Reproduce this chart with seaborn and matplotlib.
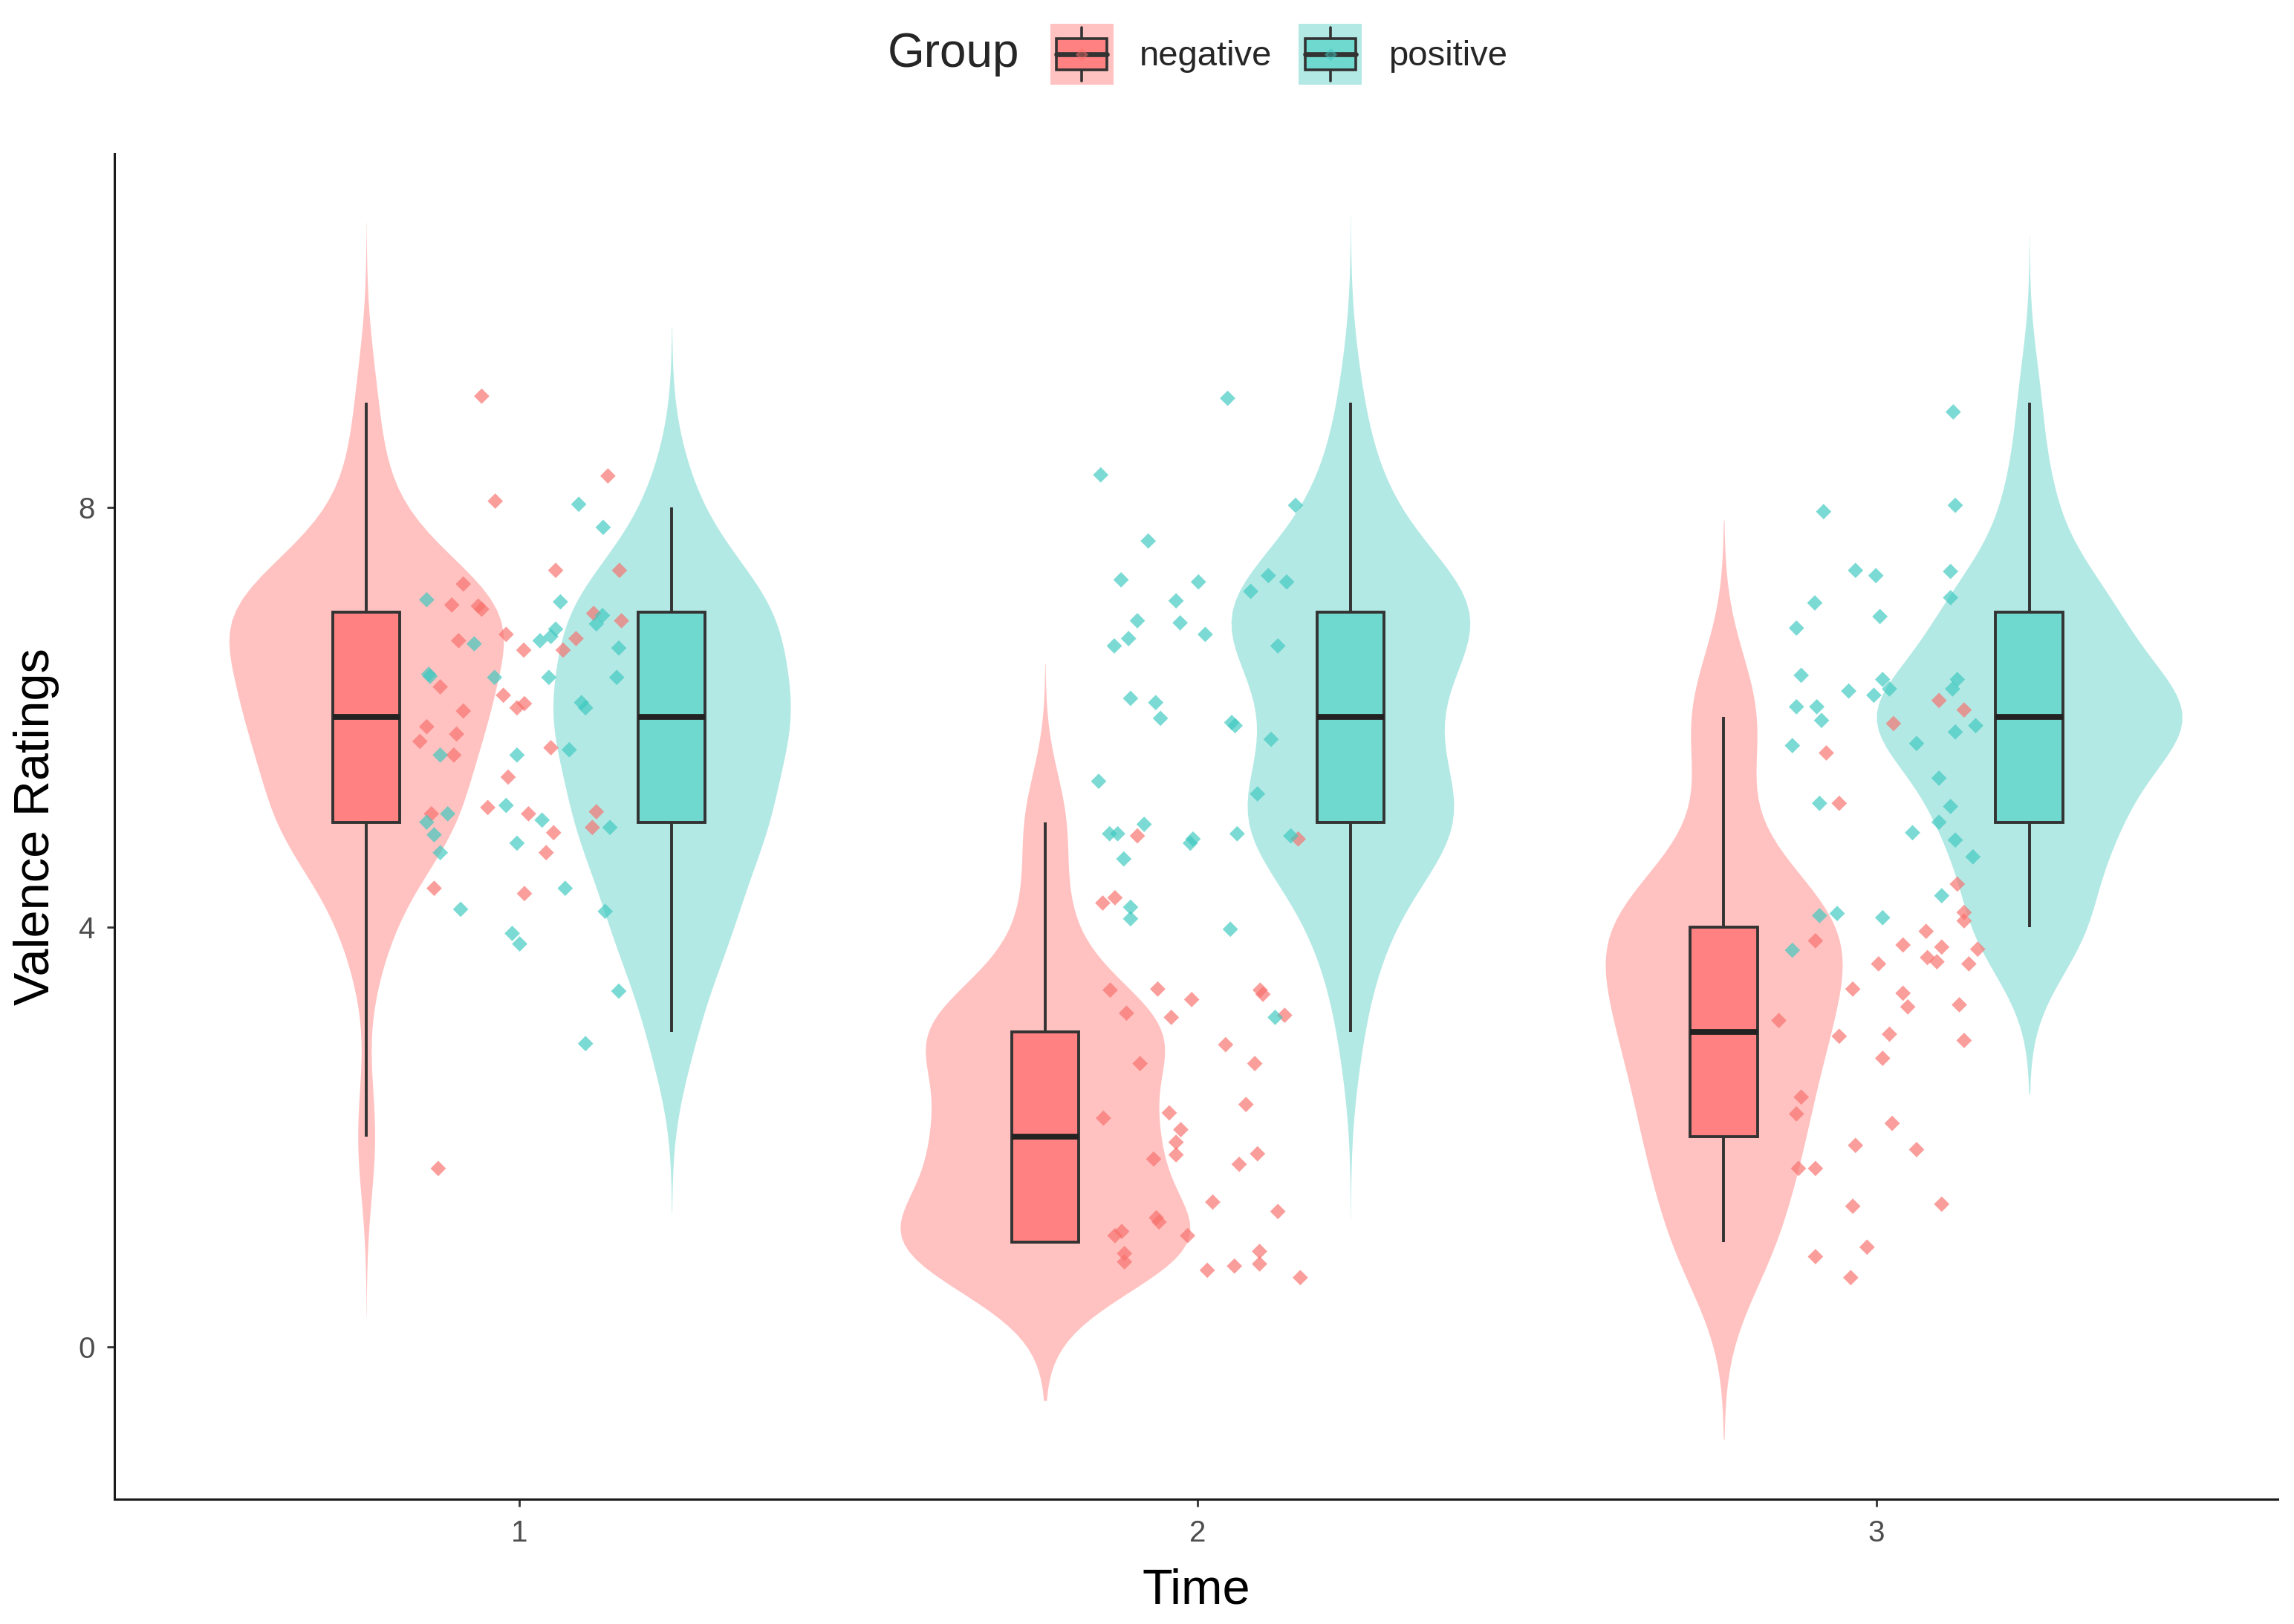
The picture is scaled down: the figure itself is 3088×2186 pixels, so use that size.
import numpy as np
import pandas as pd
import matplotlib
matplotlib.use("Agg")
import matplotlib.pyplot as plt
import seaborn as sns
from matplotlib.patches import Rectangle
from matplotlib.lines import Line2D
from matplotlib.legend_handler import HandlerBase

# ---------------- data ----------------
times = [1, 2, 3]
groups = ["negative", "positive"]

# Time 1 - negative
t1_neg_rating = [9, 8, 8, 7, 7, 7, 7, 7, 7, 7, 7, 7, 7, 7, 7, 7, 6, 6, 6, 6, 6, 6, 6, 6, 6, 6,
                 5, 5, 5, 5, 5, 5, 5, 5, 4, 4, 2]
t1_neg_y = [9.06, 8.30, 8.06, 7.40, 7.40, 7.27, 7.07, 7.06, 7.03, 6.99, 6.92, 6.79, 6.73, 6.64, 6.75,
            6.64, 6.29, 6.21, 6.09, 6.13, 6.06, 5.91, 5.84, 5.77, 5.64, 5.71, 5.43, 5.08, 5.14, 5.08,
            4.90, 4.71, 5.10, 4.95, 4.37, 4.32, 1.70]
t1_neg_dx = [-0.055, 0.131, -0.035, 0.054, 0.148, -0.082, -0.099, -0.060, -0.055, 0.110, 0.151, -0.019,
             -0.089, 0.007, 0.084, 0.065, -0.116, -0.023, -0.003, 0.008, -0.082, -0.136, -0.092, -0.146,
             -0.096, 0.047, -0.016, -0.129, -0.046, 0.014, 0.051, 0.040, 0.114, 0.108, -0.125, 0.008,
             -0.119]

# Time 1 - positive
t1_pos_rating = [8, 8, 7, 7, 7, 7, 7, 7, 7, 7, 7, 6, 6, 6, 6, 6, 6, 6, 6, 6, 6,
                 5, 5, 5, 5, 5, 5, 5, 5, 4, 4, 4, 4, 4, 3, 3]
t1_pos_y = [8.03, 7.81, 7.12, 7.10, 6.97, 6.89, 6.84, 6.77, 6.73, 6.70, 6.66, 6.41, 6.39, 6.38, 6.38,
            6.38, 6.14, 6.09, 5.64, 5.64, 5.69, 5.16, 5.08, 5.00, 4.88, 4.71, 5.02, 4.80, 4.95, 4.37,
            4.17, 4.15, 3.94, 3.84, 3.39, 2.89]
t1_pos_dx = [0.088, 0.124, -0.136, 0.061, 0.123, 0.114, 0.054, 0.047, 0.031, -0.066, 0.147, -0.133,
             -0.131, -0.036, 0.044, 0.144, 0.092, 0.098, -0.116, -0.003, 0.074, -0.019, -0.105, -0.136,
             -0.125, -0.116, 0.034, -0.003, 0.134, 0.068, -0.086, 0.127, -0.010, 0.001, 0.147, 0.098]

# Time 2 - negative
t2_neg_rating = [5, 5, 4, 4, 3, 3, 3, 3, 3, 3, 3, 3, 3, 3, 3, 2, 2, 2, 2, 2, 2, 2, 2, 2,
                 1, 1, 1, 1, 1, 1, 1, 1, 1, 1, 1, 1, 1, 1]
t2_neg_y = [4.87, 4.84, 4.23, 4.28, 3.40, 3.41, 3.31, 3.40, 3.36, 3.18, 3.14, 3.16, 2.88, 2.70, 2.70,
            2.31, 2.18, 2.23, 2.07, 1.95, 1.83, 1.79, 1.84, 1.74, 1.38, 1.29, 1.23, 1.19, 1.06, 1.10,
            0.89, 0.81, 1.06, 0.91, 0.79, 0.73, 0.77, 0.66]
t2_neg_dx = [-0.089, 0.148, -0.140, -0.122, -0.129, -0.059, -0.009, 0.092, 0.096, -0.105, -0.039, 0.128,
             0.041, -0.085, 0.084, 0.071, -0.139, -0.042, -0.025, -0.032, -0.032, -0.065, 0.088, 0.061,
             0.022, 0.118, -0.061, -0.057, -0.122, -0.112, -0.108, -0.108, -0.015, 0.091, 0.091, 0.014,
             0.054, 0.151]

# Time 2 - positive
t2_pos_rating = [9, 8, 8, 8, 7, 7, 7, 7, 7, 7, 7, 7, 7, 7, 7, 7, 6, 6, 6, 6, 6, 6,
                 5, 5, 5, 5, 5, 5, 5, 5, 5, 5, 4, 4, 4, 3]
t2_pos_y = [9.04, 8.31, 8.02, 7.68, 7.31, 7.29, 7.35, 7.29, 7.20, 7.11, 6.92, 6.90, 6.79, 6.75, 6.68,
            6.68, 6.18, 6.14, 5.99, 5.95, 5.92, 5.79, 5.39, 5.27, 4.89, 4.89, 4.98, 4.84, 4.80, 4.89,
            4.87, 4.65, 4.19, 4.08, 3.98, 3.14]
t2_pos_dx = [0.044, -0.143, 0.144, -0.073, -0.113, 0.001, 0.104, 0.131, 0.078, -0.032, -0.089, -0.026,
             0.011, -0.102, -0.123, 0.118, -0.099, -0.062, -0.055, 0.050, 0.055, 0.108, -0.146, 0.088,
             -0.130, -0.118, -0.079, -0.007, -0.011, 0.058, 0.137, -0.109, -0.099, -0.099, 0.048, 0.114]

# Time 3 - negative
t3_neg_rating = [6, 6, 6, 6, 5, 4, 4, 4, 4, 4, 4, 4, 4, 4, 4, 4, 4, 3, 3, 3, 3, 3, 3, 3, 3, 3,
                 2, 2, 2, 2, 2, 2, 2, 1, 1, 1, 1, 1]
t3_neg_y = [6.16, 6.07, 5.94, 5.66, 5.18, 4.41, 4.14, 4.06, 3.87, 3.96, 3.83, 3.81, 3.79, 3.71, 3.67,
            3.65, 3.65, 3.41, 3.37, 3.24, 3.26, 3.11, 2.96, 2.98, 2.92, 2.75, 2.38, 2.22, 2.13, 1.92,
            1.88, 1.70, 1.70, 1.34, 1.36, 0.95, 0.86, 0.66]
t3_neg_dx = [0.092, 0.129, 0.025, -0.074, -0.055, 0.119, 0.129, 0.129, -0.090, 0.073, 0.039, 0.096,
             0.149, 0.075, 0.089, 0.003, 0.136, -0.035, 0.039, 0.046, 0.122, -0.144, -0.055, 0.019,
             0.129, 0.009, -0.111, -0.118, 0.023, -0.031, 0.059, -0.115, -0.090, -0.035, 0.096, -0.014,
             -0.090, -0.038]

# Time 3 - positive
t3_pos_rating = [9, 8, 8, 7, 7, 7, 7, 7, 7, 7, 6, 6, 6, 6, 6, 6, 6, 6, 6, 6, 6, 6, 6, 6,
                 5, 5, 5, 5, 5, 5, 5, 4, 4, 4, 4, 4]
t3_pos_y = [8.91, 7.96, 8.02, 7.40, 7.35, 7.39, 7.09, 7.14, 6.96, 6.85, 6.40, 6.25, 6.36, 6.27, 6.21,
            6.36, 6.27, 6.10, 6.10, 5.97, 5.92, 5.86, 5.73, 5.75, 5.42, 5.18, 5.15, 5.00, 4.90, 4.83,
            4.67, 4.30, 4.11, 4.13, 4.09, 3.78]
t3_pos_dx = [0.113, -0.078, 0.116, -0.031, -0.001, 0.109, -0.091, 0.109, 0.005, -0.118, -0.111, -0.041,
             0.009, 0.019, -0.004, 0.119, 0.112, -0.118, -0.088, -0.081, 0.146, 0.116, -0.124, 0.059,
             0.092, -0.084, 0.109, 0.092, 0.053, 0.116, 0.142, 0.096, -0.084, -0.058, 0.009, -0.124]

# ---------------- tables ----------------
series = [
    (1, "negative", t1_neg_rating, t1_neg_y, t1_neg_dx),
    (1, "positive", t1_pos_rating, t1_pos_y, t1_pos_dx),
    (2, "negative", t2_neg_rating, t2_neg_y, t2_neg_dx),
    (2, "positive", t2_pos_rating, t2_pos_y, t2_pos_dx),
    (3, "negative", t3_neg_rating, t3_neg_y, t3_neg_dx),
    (3, "positive", t3_pos_rating, t3_pos_y, t3_pos_dx),
]
rows, pts = [], []
for t, g, r, yy, dx in series:
    for ri, yi, di in zip(r, yy, dx):
        rows.append({"Time": t, "Group": g, "rating": ri})
        pts.append({"x": t + di, "y": yi, "Group": g})
df = pd.DataFrame(rows)
dp = pd.DataFrame(pts)

violin_pal = {"negative": "#FFC2C1", "positive": "#B3E9E5"}
box_pal = {"negative": "#FF8181", "positive": "#6FD8CF"}
point_pal = {"negative": "#F8706C", "positive": "#3EC9C0"}

# ---------------- style ----------------
sns.set_style("ticks")
plt.rcParams["font.family"] = ["Liberation Sans", "DejaVu Sans"]

fig = plt.figure(figsize=(15.44, 10.93), dpi=200)
ax = fig.add_axes([0.0499, 0.0769, 0.9430, 0.8284])

sns.violinplot(data=df, x="Time", y="rating", hue="Group", hue_order=groups,
               native_scale=True, palette=violin_pal, width=0.9, dodge=True,
               density_norm="area", common_norm=True, cut=3, bw_adjust=0.9,
               inner=None, linewidth=0, saturation=1, legend=False, ax=ax)

sns.boxplot(data=df, x="Time", y="rating", hue="Group", hue_order=groups,
            native_scale=True, palette=box_pal, width=0.9, gap=0.78, dodge=True,
            showfliers=False, showcaps=False, whis=1.5, saturation=1,
            linecolor="#333333", linewidth=1.4,
            medianprops=dict(linewidth=2.8, color="#222222"),
            legend=False, ax=ax)

sns.scatterplot(data=dp, x="x", y="y", hue="Group", hue_order=groups,
                palette=point_pal, marker="D", s=28, alpha=0.68, linewidth=0,
                legend=False, zorder=4, ax=ax)

ax.set_xlim(0.404, 3.591)
ax.set_ylim(-1.451, 11.37)
ax.set_xticks(times)
ax.set_xticklabels([str(t) for t in times])
ax.set_yticks([0, 4, 8])
ax.set_yticklabels(["0", "4", "8"])
sns.despine(ax=ax)
for s in ["left", "bottom"]:
    ax.spines[s].set_linewidth(1.1)
    ax.spines[s].set_color("#1a1a1a")
ax.tick_params(axis="both", length=3.6, width=1.0, color="#333333",
               labelcolor="#4D4D4D", labelsize=14.5, pad=6)

ax.set_xlabel("Time", fontsize=24, color="black")
ax.set_ylabel("Valence Ratings", fontsize=24, color="black")
ax.xaxis.set_label_coords(0.5, -0.0685)
ax.xaxis.label.set_va("center")
ax.yaxis.set_label_coords(-0.0361, 0.5)
ax.yaxis.label.set_va("center")


class BoxKey(HandlerBase):
    def __init__(self, bg, fc, pc):
        super().__init__()
        self.bg, self.fc, self.pc = bg, fc, pc

    def create_artists(self, legend, orig_handle, xdescent, ydescent, width, height, fontsize, trans):
        x0, y0 = -xdescent, -ydescent
        cx = x0 + width / 2
        arts = [Rectangle((x0, y0), width, height, facecolor=self.bg, edgecolor="none", transform=trans)]
        arts.append(Line2D([cx, cx], [y0 + 0.06 * height, y0 + 0.24 * height], color="#333333", lw=1.3, transform=trans))
        arts.append(Line2D([cx, cx], [y0 + 0.76 * height, y0 + 0.94 * height], color="#333333", lw=1.3, transform=trans))
        arts.append(Rectangle((x0 + 0.1 * width, y0 + 0.24 * height), 0.8 * width, 0.52 * height,
                              facecolor=self.fc, edgecolor="#333333", lw=1.3, transform=trans))
        arts.append(Line2D([x0 + 0.1 * width, x0 + 0.9 * width], [y0 + 0.5 * height] * 2,
                           color="#333333", lw=2.4, transform=trans))
        arts.append(Line2D([cx], [y0 + 0.5 * height], marker="D", ms=3.5, color=self.pc, alpha=0.4,
                           lw=0, transform=trans))
        return arts


h_neg = Rectangle((0, 0), 1, 1)
h_pos = Rectangle((0, 0), 1, 1)
fig.legend([h_neg, h_pos], groups,
           handler_map={h_neg: BoxKey(violin_pal["negative"], box_pal["negative"], point_pal["negative"]),
                        h_pos: BoxKey(violin_pal["positive"], box_pal["positive"], point_pal["positive"])},
           loc="center", bbox_to_anchor=(0.5574, 0.9666), ncol=2, frameon=False, fontsize=17,
           handlelength=1.8, handleheight=2.3, handletextpad=0.75, columnspacing=0.75,
           borderpad=0, borderaxespad=0)
fig.text(0.4445, 0.9666, "Group", ha="right", va="center", fontsize=23)

fig.savefig("out.png", dpi=200)
